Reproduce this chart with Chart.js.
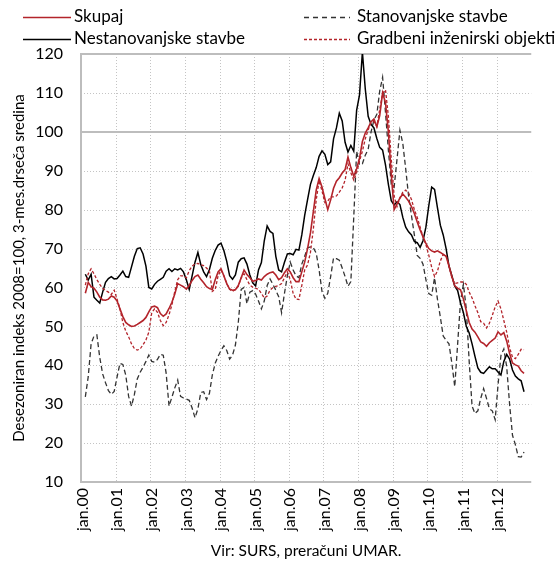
<!DOCTYPE html>
<html><head><meta charset="utf-8">
<script src="https://cdn.jsdelivr.net/npm/chart.js@4.4.1/dist/chart.umd.min.js"></script>
<style>html,body{margin:0;padding:0;background:#fff;overflow:hidden}#wrap{width:555px;height:564px;position:relative}</style>
</head><body><div id="wrap"><canvas id="c" width="555" height="564"></canvas></div>
<script>
// ---- data ----
const yearCodes = ['00','01','02','03','04','05','06','07','08','09','10','11','12'];
const tickLabels = ['jan.00','jan.01','jan.02','jan.03','jan.04','jan.05','jan.06','jan.07','jan.08','jan.09','jan.10','jan.11','jan.12'];
const seriesNames = ['Skupaj','Stanovanjske stavbe','Nestanovanjske stavbe','Gradbeni inženirski objekti'];

// monthly values, Feb 2000 ... Oct 2012 (3-month moving average)
const skupaj = [
58.5,61.3,60.2,59.8,58.8,57.5,56.8,56.7,57.0,57.8,57.5,56.5,
54.5,52.5,51.0,50.4,50.0,50.1,50.5,51.0,51.5,52.3,53.7,55.0,
55.2,54.8,53.3,52.6,53.2,54.6,56.2,58.3,61.0,60.6,60.2,59.6,
60.5,61.8,62.8,63.2,62.1,61.2,60.2,59.7,59.5,62.0,64.0,64.8,
63.0,61.0,59.6,59.3,59.4,60.5,62.5,64.5,63.3,62.5,61.6,61.8,
62.2,61.9,62.8,63.4,63.8,64.0,63.2,62.0,62.5,63.8,64.8,64.0,
62.5,61.5,61.5,64.0,66.5,70.0,74.0,79.5,85.0,88.0,85.8,82.8,
80.0,82.5,85.5,87.3,88.2,89.4,90.3,93.5,90.8,88.6,90.5,93.2,
97.5,99.7,101.0,102.6,103.3,101.3,104.2,110.0,107.5,100.0,89.0,80.0,
81.5,83.0,84.0,83.2,82.2,80.8,79.0,76.8,74.8,73.0,71.3,70.0,
69.4,69.1,69.4,69.0,68.5,68.0,65.5,62.8,60.4,59.8,59.4,57.0,
54.0,51.0,49.3,48.5,47.3,46.0,45.6,44.9,45.8,46.4,47.0,48.6,
47.8,48.4,46.2,43.0,40.6,40.1,39.8,38.6,37.9];
const stanovanjske = [
31.9,37.0,45.5,47.5,47.8,42.0,37.8,35.5,33.5,32.5,33.3,37.0,
40.5,40.2,37.5,32.0,29.5,32.5,36.5,38.2,39.5,41.0,42.6,41.0,
40.8,41.5,42.8,42.6,38.0,29.5,31.8,34.2,36.2,32.0,31.6,31.3,
31.0,29.0,26.5,28.8,33.0,33.2,31.2,32.8,37.5,40.5,42.3,43.8,
45.0,43.8,41.6,42.6,45.2,51.0,59.5,60.0,55.8,58.8,59.2,58.3,
56.5,54.5,56.5,60.5,62.2,60.8,59.3,57.6,53.5,58.5,63.0,66.5,
64.5,63.0,62.5,66.0,68.0,70.2,70.4,70.2,68.8,64.5,59.0,57.2,
58.5,62.8,67.6,67.4,67.0,65.0,62.8,60.3,61.5,78.0,95.0,91.5,
91.8,94.0,95.5,100.0,103.0,104.5,110.5,114.0,105.0,95.3,86.5,85.8,
93.0,100.4,97.0,90.5,83.5,78.5,73.5,68.2,67.5,66.0,62.0,58.4,
58.0,62.5,57.0,52.4,47.5,46.4,45.5,40.5,34.5,45.5,56.5,60.8,
54.5,41.0,29.5,27.6,28.3,31.5,34.0,31.5,28.8,28.3,26.0,35.0,
42.5,44.2,39.6,30.0,22.0,19.6,16.5,16.4,17.7];
const nestanovanjske = [
63.4,61.9,63.4,57.5,56.7,56.0,58.8,61.3,62.3,62.8,62.2,62.3,
63.2,64.2,62.8,62.6,65.3,68.0,70.0,70.2,68.6,65.5,60.0,59.6,
60.8,61.6,62.1,62.6,64.2,64.8,64.1,64.8,64.5,64.9,64.0,62.0,
59.5,63.0,66.5,69.0,65.9,64.0,62.8,64.6,67.5,69.5,70.9,71.4,
69.5,66.7,63.0,62.1,63.2,66.5,67.4,67.6,66.0,63.2,61.2,60.4,
64.5,66.4,72.0,75.8,74.4,73.9,68.0,64.5,64.0,66.5,68.6,68.7,
68.4,69.8,69.6,73.5,78.5,82.6,86.5,88.8,90.8,93.7,95.1,94.2,
91.6,92.3,98.2,101.0,104.8,102.8,97.3,94.8,96.5,95.0,105.5,109.5,
120.5,111.0,104.0,101.9,101.0,98.3,96.0,95.3,91.5,86.5,82.3,81.2,
82.0,81.3,78.0,75.5,74.3,73.5,71.8,71.5,70.3,72.0,75.5,81.0,
85.8,85.2,80.5,76.0,73.5,70.0,65.5,63.0,60.3,59.2,56.0,53.5,
50.0,48.3,45.5,42.3,39.3,38.2,37.9,38.8,39.6,39.1,39.1,38.3,
37.5,41.0,42.8,41.6,38.8,37.2,36.5,36.0,33.2];
const inzenirski = [
60.6,63.5,64.8,63.5,62.0,60.8,59.8,59.2,58.8,58.2,59.3,57.0,
54.5,51.0,48.8,47.3,45.5,44.3,43.9,44.2,45.3,46.5,48.5,53.5,
54.5,53.6,51.5,50.2,51.0,53.0,55.5,59.0,62.0,63.0,63.0,62.5,
64.3,65.5,66.0,66.2,65.8,65.6,65.0,64.2,59.0,59.5,63.0,64.5,
63.0,61.0,59.5,59.0,59.5,60.3,62.5,63.5,62.0,60.6,60.1,59.8,
59.5,58.5,57.3,57.8,59.3,60.0,60.3,60.5,61.0,62.5,64.0,62.0,
58.5,57.0,56.9,60.5,64.5,65.8,69.0,75.0,82.5,87.5,84.8,81.8,
82.2,83.3,83.3,83.5,84.5,85.6,87.5,91.8,89.5,87.6,89.5,92.5,
95.0,98.2,100.5,102.4,102.6,101.4,105.8,109.8,110.8,104.0,93.0,83.5,
80.8,83.0,84.5,85.0,84.3,82.6,80.0,78.0,75.5,73.0,71.0,68.3,
65.2,62.8,64.2,66.8,68.5,68.2,65.5,62.5,61.0,61.2,61.4,61.4,
60.8,58.8,57.3,55.3,53.5,51.2,50.8,49.6,50.8,52.8,55.0,56.5,
54.5,51.5,48.5,44.5,42.1,41.7,42.8,44.1,44.0];

// ---- categories: every month Jan 2000 - Dec 2012 ----
const months = [];
yearCodes.forEach(yy => { for (let m = 1; m <= 12; m++) months.push(m + '.' + yy); });
function place(vals) { // first value belongs to Feb 2000
  const out = new Array(months.length).fill(null);
  vals.forEach((v, i) => { out[i + 1] = v; });
  return out;
}

const FONT = 'Lato, "Open Sans", sans-serif';
const RED = '#b3242b';

const gridPlugin = {
  id: 'customGrid',
  beforeDatasetsDraw(chart) {
    const { ctx, chartArea: a, scales: { x, y } } = chart;
    const half = (x.getPixelForValue(1) - x.getPixelForValue(0)) / 2;
    const line = (x1, y1, x2, y2) => { ctx.beginPath(); ctx.moveTo(x1, y1); ctx.lineTo(x2, y2); ctx.stroke(); };
    ctx.save();
    ctx.strokeStyle = '#c4c4c4'; ctx.lineWidth = 1; ctx.setLineDash([1, 2]);
    for (let i = 12; i < months.length; i += 12) {
      const px = Math.round(x.getPixelForValue(i) - half) + 0.5;
      line(px, a.top, px, a.bottom);
    }
    for (let v = 20; v <= 110; v += 10) {
      if (v === 100) continue;
      const py = Math.round(y.getPixelForValue(v)) + 0.5;
      line(a.left, py, a.right, py);
    }
    ctx.setLineDash([]); ctx.strokeStyle = '#bdbdbd'; ctx.lineWidth = 2;
    [100, 120, 10].forEach(v => { const py = Math.round(y.getPixelForValue(v)); line(a.left, py, a.right, py); });
    line(a.left, a.top - 1, a.left, a.bottom + 1);
    ctx.restore();
  }
};

const legendPos = [[23, 17, 48, 74], [304, 17, 46, 357], [23, 39, 48, 74], [304, 39, 46, 357]];
const legendPlugin = {
  id: 'customLegend',
  afterDraw(chart) {
    const ctx = chart.ctx;
    ctx.save();
    chart.data.datasets.forEach((ds, i) => {
      const [lx, ly, len, tx] = legendPos[i];
      ctx.strokeStyle = ds.borderColor; ctx.lineWidth = ds.borderWidth;
      ctx.setLineDash(ds.legendDash || []);
      ctx.beginPath(); ctx.moveTo(lx, ly + 0.5); ctx.lineTo(lx + len, ly + 0.5); ctx.stroke();
      ctx.setLineDash([]);
      ctx.fillStyle = '#000'; ctx.font = '17px ' + FONT; ctx.textBaseline = 'middle'; ctx.textAlign = 'left';
      ctx.fillText(ds.label, tx, ly);
    });
    ctx.restore();
  }
};

new Chart(document.getElementById('c'), {
  type: 'line',
  data: {
    labels: months,
    datasets: [
      { label: seriesNames[0], data: place(skupaj), borderColor: RED, borderWidth: 1.6, order: 0 },
      { label: seriesNames[1], data: place(stanovanjske), borderColor: '#333333', borderWidth: 1.3, borderDash: [5, 3], legendDash: [5, 4], order: 3 },
      { label: seriesNames[2], data: place(nestanovanjske), borderColor: '#000000', borderWidth: 1.5, order: 2 },
      { label: seriesNames[3], data: place(inzenirski), borderColor: RED, borderWidth: 1.3, borderDash: [3, 2], legendDash: [3, 2], order: 1 }
    ]
  },
  options: {
    responsive: false,
    animation: false,
    devicePixelRatio: 1,
    layout: { padding: { top: 54, right: 0, left: 0, bottom: 0 } },
    elements: { point: { radius: 0 }, line: { tension: 0 } },
    plugins: { legend: { display: false }, tooltip: { enabled: false } },
    scales: {
      x: {
        type: 'category', offset: true,
        grid: { display: false, drawTicks: false },
        border: { display: false },
        ticks: {
          autoSkip: false, minRotation: 90, maxRotation: 90, padding: 6,
          color: '#000', font: { family: FONT, size: 16 },
          callback: (v, i) => (i % 12 === 0 ? tickLabels[i / 12] : '')
        },
        title: { display: true, text: 'Vir: SURS, preračuni UMAR.', color: '#000', font: { family: FONT, size: 15.5 }, padding: { top: 0, bottom: 4 } },
        afterFit: s => { s.height = 82; }
      },
      y: {
        min: 10, max: 120,
        grid: { display: false, drawTicks: false },
        border: { display: false },
        ticks: { stepSize: 10, padding: 18, color: '#000', font: { family: FONT, size: 16 } },
        title: { display: true, text: 'Desezoniran indeks 2008=100, 3-mes.drseča sredina', color: '#000', font: { family: FONT, size: 15 }, padding: { top: 10, bottom: 0 } },
        afterFit: s => { s.width = 81; }
      }
    }
  },
  plugins: [gridPlugin, legendPlugin]
});
</script></body></html>
